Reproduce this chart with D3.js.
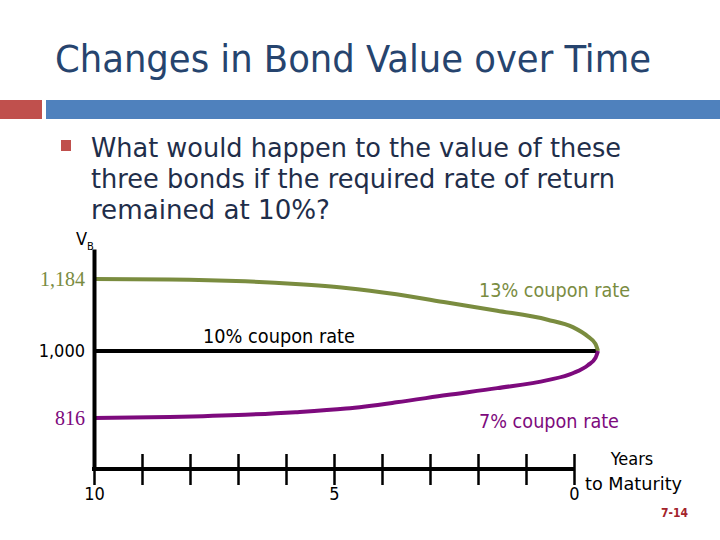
<!DOCTYPE html>
<html>
<head>
<meta charset="utf-8">
<script src="https://cdn.jsdelivr.net/npm/d3@7"></script>
<style>
  html, body { margin: 0; padding: 0; background: #fff; }
  svg { display: block; }
</style>
</head>
<body>
<svg id="chart" width="720" height="540"></svg>
<script>
// ---- data ----
const tickYears = [10, 9, 8, 7, 6, 5, 4, 3, 2, 1, 0];
const labeledYears = [10, 5, 0];
const curveYears = [10, 8.5, 7, 6, 5, 4, 3, 2, 1, 0.5, 0.2, 0.05, 0];
const value13 = [1184, 1183, 1178, 1171, 1161, 1145, 1124, 1103, 1080, 1061, 1037, 1018, 1000];
const value10 = [1000, 1000, 1000, 1000, 1000, 1000, 1000, 1000, 1000, 1000, 1000, 1000, 1000];
const value7  = [816, 819, 825, 832, 842, 859, 879, 898, 920, 939, 961, 981, 1000];
const yTickValues = [1184, 1000, 816];
const yTickLabels = ["1,184", "1,000", "816"];
const seriesNames = ["13% coupon rate", "10% coupon rate", "7% coupon rate"];

const svg = d3.select("#chart");
const sans = "Tahoma, 'DejaVu Sans Condensed', 'DejaVu Sans', sans-serif";
const serif = "'Liberation Serif', 'Times New Roman', serif";
const olive = "#7a8c3f", purple = "#7d0a7d";

// ---- slide decoration ----
svg.append("text").attr("x", 55).attr("y", 72)
  .attr("font-family", sans).attr("font-size", 37).attr("fill", "#26446e")
  .attr("textLength", 596).attr("lengthAdjust", "spacingAndGlyphs")
  .text("Changes in Bond Value over Time");
svg.append("rect").attr("x", 0).attr("y", 100).attr("width", 42).attr("height", 19).attr("fill", "#c0504d");
svg.append("rect").attr("x", 46).attr("y", 100).attr("width", 674).attr("height", 19).attr("fill", "#4f81bd");
svg.append("rect").attr("x", 61).attr("y", 140).attr("width", 10).attr("height", 11).attr("fill", "#c0504d");
const bullet = [
  ["What would happen to the value of these", 157, 530],
  ["three bonds if the required rate of return", 188, 524],
  ["remained at 10%?", 219, 239]
];
bullet.forEach(([t, yy, w]) => {
  svg.append("text").attr("x", 91).attr("y", yy)
    .attr("font-family", sans).attr("font-size", 27).attr("fill", "#1f2e4a")
    .attr("textLength", w).attr("lengthAdjust", "spacingAndGlyphs").text(t);
});

// ---- scales ----
const xAxisScale = d3.scaleLinear().domain([10, 0]).range([94, 574]);
const xCurve = d3.scaleLinear().domain([10, 0]).range([94, 598]);
const y = d3.scaleLinear().domain([676, 816, 1000, 1184, 1261]).range([469, 418, 351, 279, 249]);

// ---- series lines ----
const line = d3.line().x(d => xCurve(d[0])).y(d => y(d[1])).curve(d3.curveMonotoneX);
const series = [
  { vals: value10, color: "#000" },
  { vals: value13, color: olive },
  { vals: value7, color: purple }
];
series.forEach(s => {
  svg.append("path").datum(curveYears.map((yr, i) => [yr, s.vals[i]]))
    .attr("d", line).attr("fill", "none").attr("stroke", s.color)
    .attr("stroke-width", 4).attr("stroke-linecap", "butt");
});

// ---- y axis ----
const yAxis = svg.append("g").attr("transform", "translate(94,0)")
  .call(d3.axisLeft(y).tickValues(yTickValues).tickSize(0).tickSizeOuter(0).tickPadding(9)
    .tickFormat((d, i) => yTickLabels[i]));
yAxis.select(".domain").attr("stroke", "#000").attr("stroke-width", 4);
const yColors = [olive, "#000", purple];
const yFonts = [serif, sans, serif];
const ySizes = [20, 18, 20];
yAxis.selectAll(".tick text")
  .attr("fill", (d, i) => yColors[i])
  .attr("font-family", (d, i) => yFonts[i])
  .attr("font-size", (d, i) => ySizes[i]);

// V_B label
const vb = svg.append("text").attr("x", 76).attr("y", 245)
  .attr("font-family", sans).attr("font-size", 18).attr("fill", "#000");
vb.append("tspan").text("V");
vb.append("tspan").attr("font-size", 11).attr("dy", 5).text("B");

// ---- x axis ----
const xAxis = svg.append("g").attr("transform", "translate(0,469)")
  .call(d3.axisBottom(xAxisScale).tickValues(tickYears).tickSizeOuter(0).tickSizeInner(16)
    .tickFormat(d => labeledYears.includes(d) ? d : ""));
xAxis.select(".domain").attr("stroke", "#000").attr("stroke-width", 4)
  .attr("d", `M${xAxisScale(10) - 2},0H${xAxisScale(0)}`);
xAxis.selectAll(".tick line").attr("y1", -15).attr("y2", 16).attr("stroke", "#000").attr("stroke-width", 2.5);
xAxis.selectAll(".tick text").attr("y", 18).attr("dy", "0.71em")
  .attr("font-family", sans).attr("font-size", 18).attr("fill", "#000");

// ---- series labels ----
const labelPos = [
  { x: 479, y: 297, w: 151, color: olive },
  { x: 203, y: 343, w: 152, color: "#000" },
  { x: 479, y: 428, w: 140, color: purple }
];
seriesNames.forEach((n, i) => {
  const p = labelPos[i];
  svg.append("text").attr("x", p.x).attr("y", p.y)
    .attr("font-family", sans).attr("font-size", 19).attr("fill", p.color)
    .attr("textLength", p.w).attr("lengthAdjust", "spacingAndGlyphs").text(n);
});

// axis title
svg.append("text").attr("x", 632).attr("y", 465).attr("text-anchor", "middle")
  .attr("font-family", sans).attr("font-size", 18).attr("fill", "#000").text("Years");
svg.append("text").attr("x", 585).attr("y", 490)
  .attr("font-family", sans).attr("font-size", 18).attr("fill", "#000")
  .attr("textLength", 97).attr("lengthAdjust", "spacingAndGlyphs").text("to Maturity");

// slide number
svg.append("text").attr("x", 688).attr("y", 517).attr("text-anchor", "end")
  .attr("font-family", sans).attr("font-size", 12).attr("font-weight", "bold").attr("fill", "#a3232b")
  .text("7-14");
</script>
</body>
</html>
